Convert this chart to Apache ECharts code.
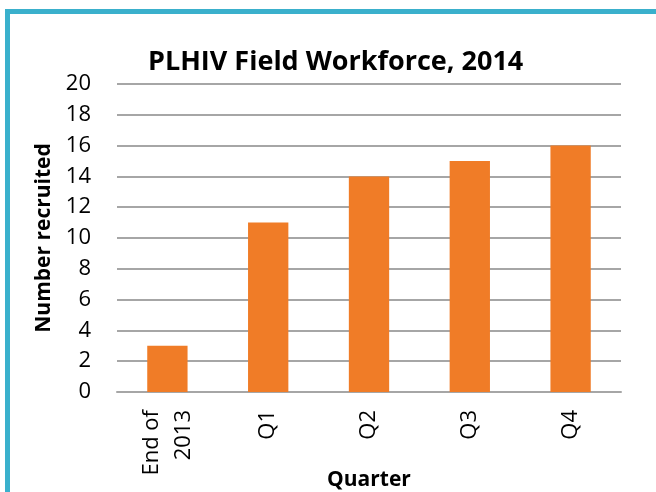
<!DOCTYPE html>
<html>
<head>
<meta charset="utf-8">
<script src="https://cdn.jsdelivr.net/npm/echarts@6/dist/echarts.min.js"></script>
<style>
  html, body { margin: 0; padding: 0; background: #fff; }
  #frame {
    position: absolute; left: 5px; top: 9px; width: 651px; height: 483px;
    border-top: 5px solid #3AB0CC; border-left: 5px solid #3AB0CC;
    box-sizing: border-box;
  }
  #chart { position: absolute; left: 0; top: 0; width: 656px; height: 492px; }
</style>
</head>
<body>
<div id="frame"></div>
<div id="chart"></div>
<script>
  // chart data
  const categories = ['End of\n2013', 'Q1', 'Q2', 'Q3', 'Q4'];
  const recruited = [3, 11, 14, 15, 16];
  const yTicks = { min: 0, max: 20, interval: 2 };

  let myChart = echarts.init(document.getElementById('chart'));
  const font = '"Open Sans", "Noto Sans", sans-serif';

  myChart.setOption({
    animation: false,
    title: {
      text: 'PLHIV Field Workforce, 2014',
      left: 143,
      top: 44,
      textStyle: { fontFamily: font, fontSize: 27, fontWeight: 'bold', color: '#000' }
    },
    grid: { left: 117, right: 35, top: 84, bottom: 100, outerBoundsMode: 'none', containLabel: false },
    xAxis: {
      type: 'category',
      data: categories,
      name: 'Quarter',
      nameLocation: 'middle',
      nameGap: 78,
      nameMoveOverlap: false,
      nameTextStyle: { fontFamily: font, fontSize: 21, fontWeight: 'bold', color: '#000' },
      axisLine: { lineStyle: { color: '#A6A6A6', width: 2 } },
      axisTick: { show: false },
      axisLabel: {
        rotate: 90, margin: 18, interval: 0,
        fontFamily: font, fontSize: 22, color: '#000', lineHeight: 32
      }
    },
    yAxis: {
      type: 'value',
      min: yTicks.min, max: yTicks.max, interval: yTicks.interval,
      name: 'Number recruited',
      nameLocation: 'middle',
      nameGap: 62,
      nameTextStyle: { fontFamily: font, fontSize: 21, fontWeight: 'bold', color: '#000' },
      axisLine: { show: false },
      axisTick: { show: false },
      axisLabel: { margin: 26, fontFamily: font, fontSize: 22, color: '#000' },
      splitLine: { lineStyle: { color: '#A6A6A6', width: 2 } }
    },
    series: [{
      type: 'bar',
      data: recruited,
      barWidth: '40%',
      itemStyle: { color: '#F07C27' }
    }]
  });
</script>
</body>
</html>
